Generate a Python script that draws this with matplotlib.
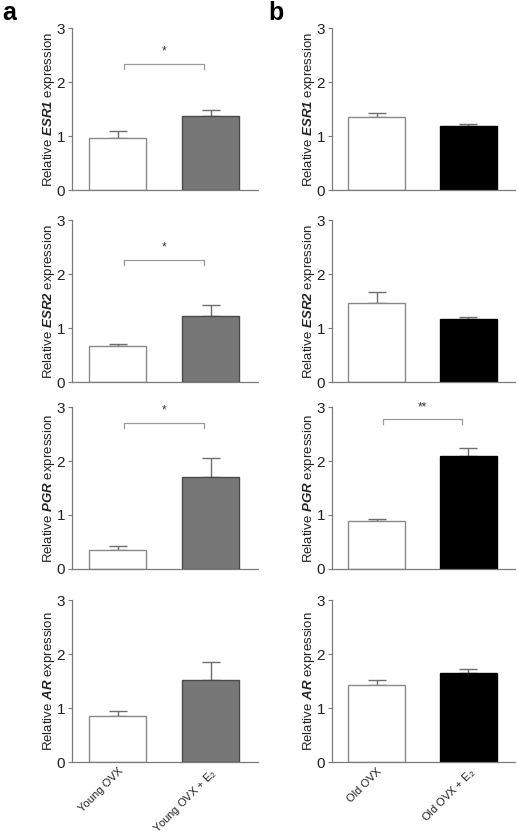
import numpy as np
import matplotlib
matplotlib.use('Agg')
import matplotlib.pyplot as plt

plt.rcParams['font.family'] = ['Liberation Sans', 'DejaVu Sans']
plt.rcParams['mathtext.fontset'] = 'custom'
plt.rcParams['mathtext.rm'] = 'Liberation Sans'
plt.rcParams['mathtext.it'] = 'Liberation Sans:italic'
plt.rcParams['mathtext.bf'] = 'Liberation Sans:bold'
plt.rcParams['mathtext.bfit'] = 'Liberation Sans:bold:italic'

# --- data ---
genes = ['ESR1', 'ESR2', 'PGR', 'AR']
young_labels = ['Young OVX', 'Young OVX + E$_2$']
old_labels = ['Old OVX', 'Old OVX + E$_2$']

young_ovx_mean = [0.96, 0.67, 0.35, 0.85]
young_ovx_sem = [0.13, 0.04, 0.08, 0.10]
young_e2_mean = [1.37, 1.22, 1.70, 1.51]
young_e2_sem = [0.12, 0.20, 0.36, 0.34]

old_ovx_mean = [1.36, 1.47, 0.88, 1.43]
old_ovx_sem = [0.06, 0.20, 0.04, 0.09]
old_e2_mean = [1.18, 1.17, 2.10, 1.64]
old_e2_sem = [0.05, 0.03, 0.14, 0.09]

young_sig = ['*', '*', '*', '']
young_sig_level = [2.33, 2.26, 2.70, None]
old_sig = ['', '', '**', '']
old_sig_level = [None, None, 2.77, None]

W, H = 518, 839
fig = plt.figure(figsize=(W / 100, H / 100), dpi=100)

rows_px = [(28, 190), (220, 382), (407, 569), (600, 762)]
cols_px = [(72, 258), (332, 515)]
spine_col = '#7a7a7a'


def draw(ax, means, sems, colors, edges, labels, sig, sig_y, gene, show_x):
    x = np.arange(2)
    ax.bar(x, means, width=0.62, color=colors, edgecolor=edges, linewidth=1.0, zorder=2)
    for xi, m, s in zip(x, means, sems):
        ax.errorbar(xi, m, yerr=[[0], [s]], fmt='none', ecolor='#6e6e6e',
                    elinewidth=1.0, capsize=6.5, capthick=1.0, zorder=1)
    if sig:
        ax.plot([0.07, 0.07, 0.93, 0.93], [sig_y - 0.09, sig_y, sig_y, sig_y - 0.09],
                color='#9a9a9a', lw=0.9)
        ax.text(0.5, sig_y + 0.12, sig, ha='center', va='bottom', fontsize=8.5, color='#333333')
    ax.set_xlim(-0.49, 1.51)
    ax.set_ylim(0, 3)
    ax.set_yticks([0, 1, 2, 3])
    for s in ['top', 'right']:
        ax.spines[s].set_visible(False)
    for s in ['left', 'bottom']:
        ax.spines[s].set_color(spine_col)
        ax.spines[s].set_linewidth(0.9)
    ax.tick_params(axis='y', length=3, width=0.8, color=spine_col, labelsize=11,
                   labelcolor='#222222', pad=2)
    ax.tick_params(axis='x', length=0)
    ax.set_ylabel('Relative $\\mathbfit{' + gene + '}$ expression', fontsize=9.5,
                  color='#222222', labelpad=0)
    if show_x:
        ax.set_xticks(x)
        ax.set_xticklabels(labels, rotation=45, ha='right', va='top', rotation_mode='anchor',
                           fontsize=8, color='#222222')
        ax.tick_params(axis='x', pad=3)
    else:
        ax.set_xticks([])


for i, gene in enumerate(genes):
    top, bot = rows_px[i]
    for j, (l, r) in enumerate(cols_px):
        ax = fig.add_axes([l / W, 1 - bot / H, (r - l) / W, (bot - top) / H])
        if j == 0:
            draw(ax, [young_ovx_mean[i], young_e2_mean[i]], [young_ovx_sem[i], young_e2_sem[i]],
                 ['white', '#777777'], ['#8a8a8a', '#4a4a4a'], young_labels,
                 young_sig[i], young_sig_level[i], gene, i == 3)
        else:
            draw(ax, [old_ovx_mean[i], old_e2_mean[i]], [old_ovx_sem[i], old_e2_sem[i]],
                 ['white', 'black'], ['#8a8a8a', 'black'], old_labels,
                 old_sig[i], old_sig_level[i], gene, i == 3)

fig.text(2 / W, 1 - 1 / H, 'a', fontsize=18, fontweight='bold', va='top', ha='left')
fig.text(268 / W, 1 - 1 / H, 'b', fontsize=18, fontweight='bold', va='top', ha='left')

fig.savefig('out.png', dpi=100)
